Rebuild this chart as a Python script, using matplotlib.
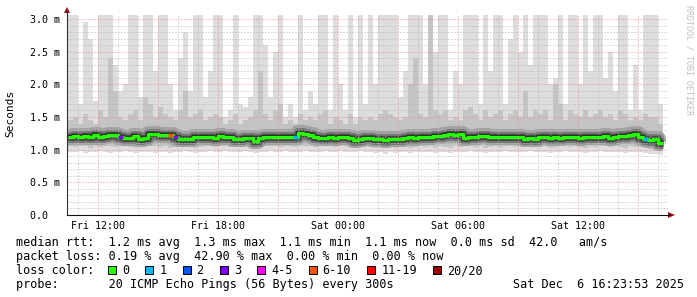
import numpy as np
import matplotlib
matplotlib.use("Agg")
import matplotlib.pyplot as plt
from matplotlib.lines import Line2D
from matplotlib.patches import Polygon, Rectangle
from matplotlib.ticker import MultipleLocator

W, H = 697, 297
MONO = ["DejaVu Sans Mono"]

# one column per 15 minutes, first column starts Fri 10:30 (hours since Fri 00:00)
t_start = 10.5
t_step = 0.25

# median rtt (ms)
median = [1.20, 1.21, 1.19, 1.21, 1.19, 1.22, 1.20, 1.21, 1.23, 1.23,
          1.20, 1.18, 1.18, 1.21, 1.17, 1.18, 1.24, 1.24, 1.23, 1.22,
          1.22, 1.20, 1.16, 1.17, 1.17, 1.20, 1.19, 1.20, 1.20, 1.18,
          1.21, 1.20, 1.19, 1.17, 1.17, 1.18, 1.18, 1.14, 1.18, 1.20,
          1.20, 1.19, 1.20, 1.20, 1.20, 1.19, 1.25, 1.24, 1.22, 1.20,
          1.18, 1.18, 1.19, 1.18, 1.20, 1.19, 1.18, 1.15, 1.17, 1.18,
          1.18, 1.17, 1.16, 1.15, 1.16, 1.17, 1.17, 1.18, 1.19, 1.18,
          1.19, 1.20, 1.20, 1.21, 1.21, 1.22, 1.24, 1.22, 1.24, 1.18,
          1.20, 1.20, 1.21, 1.21, 1.20, 1.19, 1.19, 1.20, 1.20, 1.19,
          1.19, 1.17, 1.18, 1.17, 1.19, 1.19, 1.18, 1.20, 1.18, 1.20,
          1.20, 1.19, 1.18, 1.19, 1.19, 1.20, 1.20, 1.21, 1.18, 1.20,
          1.21, 1.21, 1.22, 1.24, 1.20, 1.17, 1.15, 1.16, 1.10]

# slowest ping of each column (3.1 = off the top of the graph)
ping_max = [3.1, 3.1, 1.7, 2.95, 2.7, 1.75, 3.1, 3.1, 3.1, 2.3,
            1.9, 2.0, 3.1, 3.1, 1.8, 3.1, 3.1, 2.2, 3.1, 3.1,
            2.0, 1.6, 2.4, 2.8, 1.9, 3.1, 3.1, 1.8, 2.2, 3.1,
            3.1, 1.5, 1.6, 3.1, 1.7, 1.65, 1.8, 3.1, 3.1, 2.6,
            1.8, 2.5, 3.1, 1.5, 1.7, 1.5, 3.1, 1.6, 1.9, 1.7,
            3.1, 3.1, 1.6, 3.1, 2.0, 1.6, 3.1, 1.5, 3.1, 1.7,
            3.1, 2.0, 3.1, 3.1, 3.1, 3.1, 1.8, 2.2, 3.1, 3.1,
            3.1, 2.0, 3.1, 2.5, 3.1, 3.1, 1.6, 2.2, 2.0, 3.1,
            3.1, 3.1, 1.7, 3.1, 2.2, 3.1, 3.1, 1.7, 2.7, 3.1,
            2.5, 3.1, 2.3, 3.1, 3.1, 3.1, 2.0, 2.1, 3.1, 1.7,
            3.1, 3.1, 2.0, 3.1, 2.2, 3.1, 3.1, 2.1, 2.5, 1.9,
            3.1, 3.1, 1.6, 2.3, 1.6, 3.1, 3.1, 3.1, 1.7]

# upper edge of the denser smoke
ping_hi = [1.45, 1.5, 1.4, 1.55, 1.45, 1.4, 1.6, 1.5, 2.4, 1.9,
           1.5, 1.45, 1.55, 1.6, 1.45, 1.8, 1.7, 1.5, 1.65, 1.55,
           1.5, 1.45, 1.6, 1.9, 1.5, 1.55, 1.6, 1.45, 1.5, 1.55,
           1.5, 1.4, 1.45, 1.55, 1.4, 1.45, 1.5, 1.6, 2.2, 1.55,
           1.45, 1.6, 1.7, 1.4, 1.45, 1.4, 1.55, 1.45, 1.5, 1.45,
           1.55, 1.6, 1.4, 1.5, 1.45, 1.4, 1.55, 1.4, 1.5, 1.45,
           1.5, 1.45, 1.55, 1.6, 1.55, 1.5, 1.45, 1.5, 2.0, 2.4,
           1.55, 1.5, 3.1, 1.6, 1.55, 1.6, 1.45, 1.5, 1.45, 1.6,
           1.65, 1.55, 1.45, 1.6, 1.5, 1.55, 1.6, 1.45, 1.55, 1.6,
           1.5, 1.9, 1.5, 1.6, 1.55, 1.6, 1.45, 2.0, 1.7, 1.45,
           1.6, 1.55, 1.5, 1.6, 1.5, 1.55, 1.6, 1.5, 1.55, 1.45,
           1.6, 1.55, 1.45, 1.5, 1.45, 1.55, 1.5, 1.5, 1.4]

# lower edge of the denser smoke
ping_lo = [1.05, 1.04, 1.06, 1.05, 1.03, 1.05, 1.04, 1.06, 1.05, 1.04,
           1.05, 1.06, 1.04, 1.03, 1.05, 1.04, 1.06, 1.05, 1.04, 1.05,
           1.03, 1.04, 1.05, 1.06, 1.04, 1.03, 1.04, 1.05, 1.06, 1.04,
           1.05, 1.06, 1.04, 1.05, 1.05, 1.06, 1.05, 1.03, 1.04, 1.05,
           1.06, 1.05, 1.04, 1.06, 1.05, 1.04, 1.05, 1.06, 1.05, 1.04,
           1.05, 1.06, 1.05, 1.04, 1.06, 1.05, 1.04, 1.03, 1.05, 1.05,
           1.04, 1.03, 1.04, 1.02, 1.04, 1.03, 1.05, 1.04, 1.03, 1.04,
           1.05, 1.04, 1.05, 1.03, 1.05, 1.04, 1.03, 1.05, 1.04, 1.05,
           1.06, 1.04, 1.05, 1.03, 1.04, 1.05, 1.04, 1.06, 1.05, 1.04,
           1.05, 1.04, 1.06, 1.05, 1.04, 1.05, 1.03, 1.04, 1.05, 1.06,
           1.04, 1.05, 1.04, 1.03, 1.05, 1.04, 1.06, 1.05, 1.04, 1.05,
           1.04, 1.03, 1.05, 1.04, 1.05, 1.03, 1.01, 1.02, 1.00]

# fastest ping of each column
ping_min = [0.97, 0.96, 0.98, 0.95, 0.97, 0.96, 0.98, 0.97, 0.95, 0.96,
            0.97, 0.98, 0.96, 0.95, 0.97, 0.96, 0.97, 0.95, 0.96, 0.97,
            0.95, 0.96, 0.97, 0.98, 0.96, 0.95, 0.96, 0.97, 0.98, 0.96,
            0.97, 0.98, 0.96, 0.97, 0.97, 0.98, 0.97, 0.95, 0.96, 0.97,
            0.98, 0.97, 0.96, 0.98, 0.97, 0.96, 0.97, 0.98, 0.97, 0.96,
            0.97, 0.98, 0.97, 0.96, 0.98, 0.97, 0.96, 0.97, 0.98, 0.97,
            0.96, 0.95, 0.96, 0.94, 0.96, 0.95, 0.97, 0.96, 0.95, 0.96,
            0.97, 0.96, 0.97, 0.95, 0.97, 0.96, 0.95, 0.97, 0.96, 0.97,
            0.98, 0.96, 0.97, 0.95, 0.96, 0.97, 0.96, 0.98, 0.97, 0.96,
            0.97, 0.96, 0.98, 0.97, 0.96, 0.97, 0.95, 0.96, 0.97, 0.98,
            0.96, 0.97, 0.96, 0.95, 0.97, 0.96, 0.98, 0.97, 0.96, 0.97,
            0.96, 0.95, 0.97, 0.96, 0.97, 0.95, 0.93, 0.94, 0.92]

# columns with packet loss (index, lost pings out of 20)
loss_cols = [10, 20, 21, 45, 115]
loss_vals = [3, 8, 3, 1, 1]

loss_labels = ["0", "1", "2", "3", "4-5", "6-10", "11-19", "20/20"]
loss_upper = [0, 1, 2, 3, 5, 10, 19, 20]
loss_colors = ["#26ff00", "#00b8ff", "#0059ff", "#7e00ff",
               "#ff00ff", "#ff5500", "#ff0000", "#a00000"]

time_ticks = [12, 18, 24, 30, 36]
time_labels = ["Fri 12:00", "Fri 18:00", "Sat 00:00", "Sat 06:00", "Sat 12:00"]
y_ticks = [0.0, 0.5, 1.0, 1.5, 2.0, 2.5, 3.0]
y_labels = ["0.0  ", "0.5 m", "1.0 m", "1.5 m", "2.0 m", "2.5 m", "3.0 m"]

stats_rtt = "median rtt:  1.2 ms avg  1.3 ms max  1.1 ms min  1.1 ms now  0.0 ms sd  42.0   am/s"
stats_loss = "packet loss: 0.19 % avg  42.90 % max  0.00 % min  0.00 % now"
probe_txt = "probe:       20 ICMP Echo Pings (56 Bytes) every 300s"
stamp_txt = "Sat Dec  6 16:23:53 2025"


def px(x, y):
    return x / W, 1 - y / H


def ext(a):
    a = list(a)
    return a + [a[-1]]


n = len(median)
edges = t_start + t_step * np.arange(n + 1)

fig = plt.figure(figsize=(W / 100, H / 100), dpi=100, facecolor="white")
ax = fig.add_axes([67 / W, 1 - 215 / H, 601 / W, 200 / H])
ax.set_xlim(10.45, 40.5)
ax.set_ylim(0, 200 / 65.33)

# smoke
ax.fill_between(edges, ext(ping_min), ext(ping_max), step="post",
                color="#dddddd", lw=0, zorder=1)
ax.fill_between(edges, ext(ping_lo), ext(ping_hi), step="post",
                color="#c4c4c4", lw=0, zorder=1.1)
for lw_px, col in [(16, "#a2a2a2"), (11, "#767676"), (7, "#464646"), (4, "#1e1e1e")]:
    ax.step(edges, ext(median), where="post", color=col, lw=lw_px * 0.72,
            solid_capstyle="butt", zorder=1.2)

# median with loss colour
ax.step(edges, ext(median), where="post", color=loss_colors[0], lw=2.4,
        solid_capstyle="butt", zorder=3)
for c, v in zip(loss_cols, loss_vals):
    k = next(i for i, u in enumerate(loss_upper) if v <= u)
    ax.hlines(median[c], edges[c], edges[c + 1], color=loss_colors[k],
              lw=2.4, zorder=3.1)

# grid
ax.xaxis.set_major_locator(MultipleLocator(3))
ax.xaxis.set_minor_locator(MultipleLocator(1))
ax.yaxis.set_major_locator(MultipleLocator(0.5))
ax.yaxis.set_minor_locator(MultipleLocator(0.1))
ax.set_axisbelow(False)
ax.grid(which="minor", color="#b8b8b8", lw=0.72, ls=(0, (1, 2)))
ax.grid(which="major", color="#ea8c8c", lw=0.72, ls=(0, (1, 2)))

major_x = np.arange(12, 40.5, 3)
ax.set_xticks(major_x)
ax.set_xticklabels([time_labels[time_ticks.index(m)] if m in time_ticks else ""
                    for m in major_x], family=MONO, fontsize=7.2)
ax.set_yticks(y_ticks)
ax.set_yticklabels(y_labels, family=MONO, fontsize=7.2)
ax.tick_params(which="both", length=0)
ax.tick_params(axis="y", pad=5)
ax.tick_params(axis="x", pad=4)
for s in ax.spines.values():
    s.set_visible(False)

# axes with arrows
fig.add_artist(Line2D([67 / W, 67 / W], [1 - 215 / H, 1 - 11 / H],
                      color="#303030", lw=0.8))
fig.add_artist(Line2D([67 / W, 670 / W], [1 - 215 / H, 1 - 215 / H],
                      color="#101010", lw=0.8))
fig.add_artist(Polygon([px(64, 13), px(70, 13), px(67, 7)], closed=True,
                       transform=fig.transFigure, color="#9a1010", lw=0))
fig.add_artist(Polygon([px(668, 212), px(668, 218), px(675, 215)], closed=True,
                       transform=fig.transFigure, color="#9a1010", lw=0))

fig.text(*px(10, 113), "Seconds", rotation=90, ha="center", va="center",
         family=MONO, fontsize=8.0)
fig.text(*px(688.5, 5), "RRDTOOL / TOBI OETIKER", rotation=270, ha="center",
         va="top", family=MONO, fontsize=6.0, color="#c0c0c0")

# legend
fs = 8.5
fig.text(*px(16, 246), stats_rtt, family=MONO, fontsize=fs, va="baseline")
fig.text(*px(16, 260), stats_loss, family=MONO, fontsize=fs, va="baseline")
fig.text(*px(16, 274), "loss color:", family=MONO, fontsize=fs, va="baseline")
fig.text(*px(16, 288), probe_txt, family=MONO, fontsize=fs, va="baseline")
fig.text(*px(513, 288), stamp_txt, family=MONO, fontsize=fs, va="baseline")

bx = 108.0
for lab, col in zip(loss_labels, loss_colors):
    fig.add_artist(Rectangle(px(bx, 274), 8 / W, 8 / H, transform=fig.transFigure,
                             facecolor=col, edgecolor="black", lw=0.72))
    fig.text(*px(bx + 14, 274), lab, family=MONO, fontsize=fs, va="baseline")
    bx += 37.3 + 7.1 * (len(lab) - 1)

fig.savefig("out.png", dpi=100, facecolor="white")
